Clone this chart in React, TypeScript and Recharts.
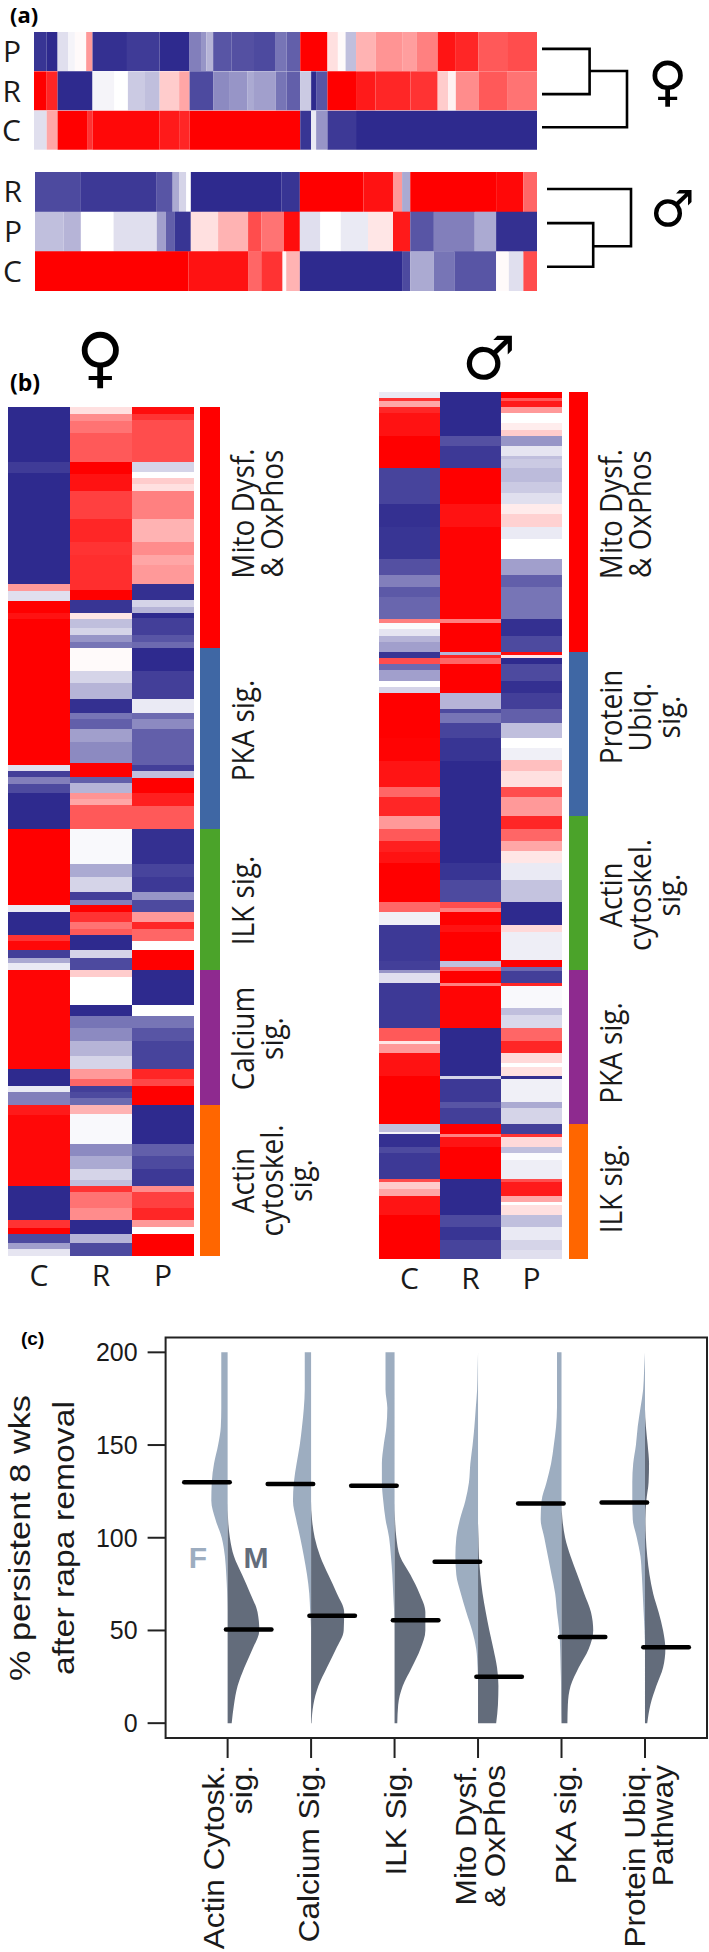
import * as React from 'react';
import {
  BarChart, Bar, XAxis, YAxis, LineChart, Line, ComposedChart, Area,
  ReferenceLine, ReferenceArea,
} from 'recharts';

type Cell = [number, number]; // [z-score, span of rows]

// panel (a), pathway level z-scores
const aFemaleP: Cell[] = [[-.95,28],[-1,24],[-.15,23],[-.05,15],[.02,25],[.4,14],[-.97,76],[-.92,72],[-1,66],[-.6,27],[-.5,10],[-.35,15],[-.8,40],[-.82,50],[-.85,48],[-.65,24],[-.75,30],[1,60],[.12,23],[.02,17],[-.3,23],[.3,43],[.42,60],[.38,30],[.5,47],[.92,40],[.85,50],[.65,63],[.7,66]];
const aFemaleR: Cell[] = [[1,28],[.85,24],[-1,77],[-.05,48],[0,30],[-.25,36],[-.3,34],[.2,43],[.35,23],[-.85,52],[-.55,35],[-.5,40],[-.4,15],[-.45,48],[-.65,24],[-.75,30],[-.25,24],[-1,11],[-.8,25],[1,63],[.9,43],[.85,77],[.8,60],[.2,23],[.05,17],[.45,50],[.65,63],[.55,66]];
const aFemaleC: Cell[] = [[-.15,28],[.35,24],[1,65],[.8,12],[.97,148],[.9,43],[.85,23],[1,244],[-.95,24],[-.1,11],[-.5,25],[-.93,63],[-1,399]];
const aMaleR: Cell[] = [[-.85,101],[-.93,167],[-.8,35],[-.4,15],[-.2,15],[0,10],[-1,200],[-.95,40],[1,140],[.93,65],[.4,20],[-.4,18],[1,189],[.97,60],[.6,30]];
const aMaleP: Cell[] = [[-.3,63],[-.35,38],[0,72],[-.15,95],[-.45,20],[-.75,20],[-.95,35],[.12,60],[.3,66],[.7,29],[.55,50],[.95,35],[-.15,45],[0,45],[-.1,60],[.1,55],[.9,38],[-.8,52],[-.6,90],[-.4,47],[-.97,90]];
const aMaleC: Cell[] = [[1,338],[.93,131],[.6,29],[.8,47],[.02,8],[.3,30],[-1,225],[-.85,18],[-.4,52],[-.65,45],[-.8,92],[.02,28],[-.15,32],[.7,30]];

// panel (b), gene level z-scores
const bFemaleC: Cell[] = [[-1,55],[-.92,11],[-1,111],[.4,7],[-.15,10],[1,12],[.93,6],[1,146],[-.15,6],[-.9,6],[-.6,7],[-.85,9],[-1,36],[1,76],[-.1,7],[-1,23],[.8,6],[.97,9],[-.9,8],[-.4,5],[-.1,7],[.98,99],[-1,17],[-.1,6],[-.6,13],[.9,10],[.97,71],[-1,34],[.8,8],[1,6],[-.85,9],[-.45,6],[-.12,7]];
const bFemaleR: Cell[] = [[.12,7],[.45,7],[.55,12],[.65,29],[1,12],[.93,17],[.75,28],[.85,23],[.8,13],[.82,35],[1,10],[-.95,13],[.1,6],[-.3,9],[-.2,7],[-.5,7],[-.65,6],[.02,23],[-.2,12],[-.35,16],[-.97,14],[-.65,6],[-.75,10],[-.45,13],[-.55,21],[1,14],[-.75,6],[-.35,10],[.42,6],[.35,6],[.65,24],[-.03,35],[-.4,13],[-.2,15],[-.9,8],[-.6,5],[1,7],[.8,10],[.55,7],[.65,6],[-1,15],[-.2,8],[-.85,12],[.2,7],[0,28],[-1,11],[-.65,12],[-.55,13],[-.35,15],[-.2,13],[.4,10],[.6,7],[-.9,6],[-.85,6],[-.7,7],[.3,9],[-.03,30],[-.55,12],[-.4,13],[-.2,11],[-.3,6],[.8,6],[.55,16],[.45,12],[-1,14],[-.35,9],[-.85,13]];
const bFemaleP: Cell[] = [[.95,7],[.8,6],[.7,42],[-.2,10],[0,6],[.2,6],[.12,7],[.5,28],[.3,23],[.45,13],[.35,10],[.4,19],[-.97,16],[-.2,7],[-.35,6],[-1,5],[-.9,17],[-.8,7],[-.7,6],[-1,23],[-.9,28],[-.1,14],[-.7,6],[-.55,10],[-.75,36],[-.9,6],[-.3,7],[1,15],[.88,13],[.65,23],[-.97,35],[-.88,13],[-.93,15],[-.5,8],[-.85,12],[.4,10],[.85,7],[.6,12],[0,9],[1,20],[-1,35],[0,11],[-.65,12],[-.8,13],[-.88,28],[.85,10],[.72,7],[1,19],[-1,39],[-.75,12],[-.85,13],[-.93,17],[.45,6],[.75,16],[.85,12],[.4,7],[0,7],[1,22]];
const bMaleC: Cell[] = [[-.1,6],[.8,3],[.35,6],[.85,6],[.93,23],[1,32],[-.88,36],[-.97,23],[-.95,32],[-.82,16],[-.6,12],[-.78,10],[-.72,22],[.5,4],[-.02,6],[-.12,7],[-.35,6],[-.45,10],[-.95,6],[.7,6],[-.7,6],[-.45,11],[0,6],[-.2,6],[1,45],[.99,23],[.92,26],[.6,10],[.85,19],[.4,13],[.65,12],[.88,11],[.93,11],[1,39],[.6,10],[-.07,13],[-.93,36],[-.9,9],[-.5,3],[-.15,10],[-.93,45],[.65,13],[.1,3],[.4,9],[.93,23],[1,48],[-.3,8],[-.05,2],[-.97,13],[-.85,6],[-.93,26],[.7,3],[.2,7],[.35,7],[.92,19],[1,44]];
const bMaleR: Cell[] = [[-1,44],[-.82,10],[-.93,22],[1,36],[.93,23],[.99,92],[.5,4],[1,29],[-.35,3],[.85,3],[.6,6],[1,29],[-.35,16],[-.85,4],[-.65,10],[-.88,15],[-.95,23],[-1,102],[-.95,17],[-.85,22],[.7,6],[.5,4],[1,13],[.93,7],[1,29],[-.3,6],[.6,4],[1,12],[.5,3],[.98,42],[-1,48],[-.2,3],[-.93,23],[-.8,6],[-.9,16],[1,10],[.5,3],[.92,10],[1,32],[-1,36],[-.85,12],[-.95,13],[-.88,19]];
const bMaleP: Cell[] = [[1,6],[.65,3],[.9,6],[.4,6],[0,10],[.07,7],[.2,6],[-.5,10],[-.12,10],[-.3,3],[-.25,9],[-.32,14],[-.25,11],[-.15,11],[.08,10],[.18,13],[-.1,12],[0,20],[-.45,16],[-.75,12],[-.65,32],[-.97,17],[-.85,16],[.95,3],[.1,3],[-1,6],[-.85,17],[-.97,12],[-.9,16],[-.75,14],[-.3,15],[0,10],[-.07,12],[.25,11],[.12,16],[.7,10],[.4,19],[.85,13],[.6,12],[.35,10],[.1,12],[-.1,17],[-.28,22],[-1,23],[.15,7],[-.08,28],[1,7],[-.7,4],[-.9,12],[.85,3],[-.03,22],[-.3,7],[-.18,13],[.6,13],[.85,12],[.15,10],[0,4],[.12,9],[-.97,3],[-.07,23],[-.4,6],[-.2,16],[-.9,10],[.8,3],[.15,10],[-.3,6],[-.02,7],[-.08,19],[.7,3],[.9,14],[.35,6],[0,3],[.12,10],[-.3,12],[-.1,13],[-.2,10],[-.15,9]];

// pathway side bars
const femalePathways = [['Mito Dysf.', '& OxPhos'], ['PKA sig.'], ['ILK sig.'], ['Calcium', 'sig.'], ['Actin', 'cytoskel.', 'sig.']];
const femaleSpans = [241, 181, 141, 135, 151];
const femaleShift = [-14, -8, 1, 1, 0];
const malePathways = [['Mito Dysf.', '& OxPhos'], ['Protein', 'Ubiq.', 'sig.'], ['Actin', 'cytoskel.', 'sig.'], ['PKA sig.'], ['ILK sig.']];
const maleSpans = [260, 164, 154, 154, 135];
const maleShift = [-8, -17, 2, 6, -3];
const barColors = ['#ff0000', '#3f67a4', '#4ba32a', '#8e2a8f', '#ff6600'];

// dendrograms
const femaleTreeLow = [{ x: 0, y: .43 }, { x: 56, y: .43 }, { x: 56, y: 1.58 }, { x: 0, y: 1.58 }];
const femaleTreeHigh = [{ x: 56, y: .99 }, { x: 100, y: .99 }, { x: 100, y: 2.42 }, { x: 0, y: 2.42 }];
const maleTreeLow = [{ x: 0, y: 1.29 }, { x: 55, y: 1.29 }, { x: 55, y: 2.39 }, { x: 0, y: 2.39 }];
const maleTreeHigh = [{ x: 55, y: 1.87 }, { x: 100, y: 1.87 }, { x: 100, y: .43 }, { x: 0, y: .43 }];

// panel (c), density on the pct grid
const pctGrid = [0, 10, 20, 30, 40, 50, 60, 70, 80, 90, 100, 110, 120, 130, 140, 150, 160, 170, 180, 190, 200];
const violinNames = [['Actin Cytosk.', 'sig.'], ['Calcium Sig.'], ['ILK Sig.'], ['Mito Dysf.', '& OxPhos'], ['PKA sig.'], ['Protein Ubiq.', 'Pathway']];
const violinShift = [-4, 8, 11, -2, 14, 0];
const femaleDensity = [
  [0, 0, 0, 0, 0, 0, 0, 1, 3, 6, 13, 27, 36, 35, 30, 21, 15, 14, 14, 14, 14],
  [0, 0, 0, 0, 0, 0, 2, 4, 9, 16, 24, 33, 40, 38, 32, 25, 20, 16, 14, 14, 14],
  [0, 0, 0, 0, 0, 0, 1, 3, 5, 8, 12, 20, 25, 28, 28, 24, 18, 16, 20, 20, 20],
  [0, 0, 0, 1, 4, 13, 26, 38, 48, 50, 48, 40, 28, 20, 17, 12, 8, 5, 2, 1, 0],
  [0, 1, 1, 2, 3, 5, 10, 14, 22, 30, 38, 46, 44, 33, 23, 17, 12, 10, 10, 10, 10],
  [0, 0, 0, 0, 0, 1, 3, 5, 7, 10, 18, 27, 28, 28, 26, 20, 16, 10, 4, 2, 0],
];
const maleDensity = [
  [9, 14, 22, 37, 55, 70, 66, 50, 32, 14, 5, 1, 0, 0, 0, 0, 0, 0, 0, 0, 0],
  [1, 5, 16, 35, 55, 72, 73, 57, 38, 20, 8, 2, 0, 0, 0, 0, 0, 0, 0, 0, 0],
  [6, 8, 18, 38, 57, 68, 68, 55, 35, 12, 4, 1, 0, 0, 0, 0, 0, 0, 0, 0, 0],
  [40, 44, 45, 42, 34, 25, 17, 10, 5, 2, 1, 0, 0, 0, 0, 0, 0, 0, 0, 0, 0],
  [13, 14, 20, 38, 60, 70, 65, 50, 35, 20, 8, 2, 0, 0, 0, 0, 0, 0, 0, 0, 0],
  [5, 12, 25, 40, 45, 40, 30, 18, 10, 5, 2, 1, 3, 8, 9, 6, 2, 0, 0, 0, 0],
];
const femaleMedian = [130, 129, 128, 87, 118.5, 119];
const maleMedian = [50.5, 58, 55.5, 25, 46.5, 41];
const yTicks = [0, 50, 100, 150, 200];

const SANS = '"Open Sans", sans-serif';
const HELV = '"Liberation Sans", Arial, sans-serif';
const DENSITY_SCALE = 184.3;

function heatColor(z: number) {
  const t = Math.abs(z);
  const to = z < 0 ? [46, 42, 142] : [255, 0, 0];
  const c = to.map((v) => Math.round(255 + (v - 255) * t));
  return `rgb(${c[0]},${c[1]},${c[2]})`;
}

function buildTable(names: string[], rows: Cell[][]) {
  return names.map((name, i) => {
    const row: any = { name };
    rows[i].forEach((cell, j) => { row[`c${i}_${j}`] = cell[1]; });
    return row;
  });
}

function heatBars(rows: Cell[][]) {
  return rows.flatMap((cells, i) =>
    cells.map((cell, j) => (
      <Bar key={`c${i}_${j}`} dataKey={`c${i}_${j}`} stackId="h" fill={heatColor(cell[0])} isAnimationActive={false} />
    ))
  );
}

// three rows side by side, panel (a)
const RowHeat: React.FC<{ names: string[]; rows: Cell[][]; total: number; left: number; top: number; width: number; height: number }> = ({ names, rows, total, left, top, width, height }) => (
  <div style={{ position: 'absolute', left: 0, top }}>
    <BarChart layout="vertical" width={left + width} height={height} data={buildTable(names, rows)} barCategoryGap={0} margin={{ top: 0, right: 0, bottom: 0, left: 0 }}>
      <XAxis type="number" domain={[0, total]} hide />
      <YAxis type="category" dataKey="name" width={left} axisLine={false} tickLine={false} tickSize={0} tickMargin={13} interval={0}
        tick={{ fontSize: 30, fontFamily: SANS, fill: '#1a1a1a' }} />
      {heatBars(rows)}
    </BarChart>
  </div>
);

// three columns stacked down the page, panel (b)
const ColumnHeat: React.FC<{ rows: Cell[][]; total: number; left: number; top: number; width: number }> = ({ rows, total, left, top, width }) => (
  <div style={{ position: 'absolute', left, top }}>
    <BarChart width={width} height={total + 44} data={buildTable(['C', 'R', 'P'], rows)} barCategoryGap={0} margin={{ top: 0, right: 0, bottom: 0, left: 0 }}>
      <XAxis dataKey="name" height={44} axisLine={false} tickLine={false} tickSize={0} tickMargin={9} interval={0}
        tick={{ fontSize: 30, fontFamily: SANS, fill: '#1a1a1a' }} />
      <YAxis type="number" domain={[0, total]} reversed hide />
      {heatBars(rows)}
    </BarChart>
  </div>
);

const PathwayBar: React.FC<{ names: string[][]; spans: number[]; shift: number[]; left: number; top: number; width: number }> = ({ names, spans, shift, left, top, width }) => {
  const row: any = { name: 'pathway' };
  spans.forEach((s, i) => { row[`p${i}`] = s; });
  const total = spans.reduce((a, b) => a + b, 0);
  return (
    <div style={{ position: 'absolute', left, top }}>
      <BarChart width={width + 120} height={total} data={[row]} barCategoryGap={0} margin={{ top: 0, right: 120, bottom: 0, left: 0 }}>
        <XAxis dataKey="name" hide />
        <YAxis type="number" domain={[0, total]} reversed hide />
        {spans.map((_, i) => (
          <Bar key={i} dataKey={`p${i}`} stackId="p" fill={barColors[i]} isAnimationActive={false}
            label={(p: any) => (
              <g>
                {names[i].map((line, k) => (
                  <text key={k} transform={`translate(${p.x + p.width + 34 + k * 29},${p.y + p.height / 2 + shift[i]}) rotate(-90) scale(.9,1)`}
                    textAnchor="middle" fontSize={31} fontFamily={SANS} fill="#1a1a1a">{line}</text>
                ))}
              </g>
            )} />
        ))}
      </BarChart>
    </div>
  );
};

const Tree: React.FC<{ low: any[]; high: any[]; left: number; top: number; width: number; height: number }> = ({ low, high, left, top, width, height }) => (
  <div style={{ position: 'absolute', left: left - 3, top: top - 3 }}>
    <LineChart width={width + 6} height={height + 6} margin={{ top: 3, right: 3, bottom: 3, left: 3 }}>
      <XAxis type="number" dataKey="x" domain={[0, 100]} hide />
      <YAxis type="number" dataKey="y" domain={[0, 3]} reversed hide />
      <Line data={low} dataKey="y" stroke="#000" strokeWidth={2.6} dot={false} isAnimationActive={false} strokeLinejoin="miter" />
      <Line data={high} dataKey="y" stroke="#000" strokeWidth={2.6} dot={false} isAnimationActive={false} strokeLinejoin="miter" />
    </LineChart>
  </div>
);

const Tag: React.FC<{ x: number; y: number; size: number; bold?: boolean; font?: string; children: React.ReactNode }> = ({ x, y, size, bold, font, children }) => (
  <div style={{ position: 'absolute', left: x, top: y, fontSize: size, lineHeight: 1, fontWeight: bold ? 700 : 400, fontFamily: font || SANS, color: '#000', whiteSpace: 'nowrap' }}>{children}</div>
);

const violinTable = pctGrid.map((pct, k) => {
  const row: any = { pct };
  violinNames.forEach((_, i) => {
    const c = i + 1;
    row[`f${i}`] = [c - femaleDensity[i][k] / DENSITY_SCALE, c];
    row[`m${i}`] = [c, c + maleDensity[i][k] / DENSITY_SCALE];
  });
  return row;
});

const ViolinTick = (props: any) => {
  const i = props.payload.value - 1;
  return (
    <g>
      {violinNames[i].map((line, k) => (
        <text key={k} transform={`translate(${props.x + violinShift[i] + k * 28.5},455) rotate(-90) scale(1.053,1)`}
          textAnchor="end" fontSize={30} fontFamily={HELV} fill="#1a1a1a">{line}</text>
      ))}
    </g>
  );
};

const ViolinChart = () => (
  <div style={{ position: 'absolute', left: 0, top: 1310 }}>
    <ComposedChart layout="vertical" width={709} height={642} data={violinTable} margin={{ top: 27.5, right: 2, bottom: 0, left: 0 }}>
      <XAxis type="number" domain={[0.257, 6.743]} ticks={[1, 2, 3, 4, 5, 6]} allowDataOverflow height={214}
        axisLine={false} tickSize={20} tickLine={{ stroke: '#222', strokeWidth: 2 }} tick={<ViolinTick />} interval={0} />
      <YAxis type="number" dataKey="pct" domain={[-8, 208]} ticks={yTicks} reversed allowDataOverflow width={165.6}
        axisLine={false} tickSize={18} tickMargin={10} tickLine={{ stroke: '#222', strokeWidth: 2 }}
        tick={{ fontSize: 25, fontFamily: HELV, fill: '#1a1a1a' }} interval={0} />
      {violinNames.map((_, i) => (
        <Area key={`f${i}`} dataKey={`f${i}`} type="monotone" stroke="none" fill="#9dadc0" fillOpacity={1} dot={false} activeDot={false} isAnimationActive={false} />
      ))}
      {violinNames.map((_, i) => (
        <Area key={`m${i}`} dataKey={`m${i}`} type="monotone" stroke="none" fill="#636c7b" fillOpacity={1} dot={false} activeDot={false} isAnimationActive={false} />
      ))}
      {femaleMedian.map((v, i) => (
        <ReferenceLine key={`fm${i}`} segment={[{ x: i + 1 - .52, y: v }, { x: i + 1 + .025, y: v }]} stroke="#000" strokeWidth={4.5} strokeLinecap="round" />
      ))}
      {maleMedian.map((v, i) => (
        <ReferenceLine key={`mm${i}`} segment={[{ x: i + 1 - .02, y: v }, { x: i + 1 + .525, y: v }]} stroke="#000" strokeWidth={4.5} strokeLinecap="round" />
      ))}
      <ReferenceArea x1={0.257} x2={6.743} y1={-8} y2={208} fill="none" stroke="#222" strokeWidth={2} />
    </ComposedChart>
    <svg width={300} height={500} style={{ position: 'absolute', left: 0, top: 0 }}>
      <text transform="translate(30,228) rotate(-90) scale(1.144,1)" textAnchor="middle" fontSize={30} fontFamily={HELV} fill="#1a1a1a">% persistent 8 wks</text>
      <text transform="translate(74,228) rotate(-90) scale(1.125,1)" textAnchor="middle" fontSize={30} fontFamily={HELV} fill="#1a1a1a">after rapa removal</text>
      <text x={198} y={258} textAnchor="middle" fontSize={30} fontWeight={700} fontFamily={HELV} fill="#9dadc0">F</text>
      <text x={256} y={258} textAnchor="middle" fontSize={30} fontWeight={700} fontFamily={HELV} fill="#636c7b">M</text>
    </svg>
  </div>
);

export default function App() {
  return (
    <div style={{ position: 'absolute', left: 0, top: 0, width: 709, height: 1952, background: '#fff', overflow: 'hidden' }}>
      <Tag x={10} y={3} size={22} bold>(a)</Tag>
      <RowHeat names={['P', 'R', 'C']} rows={[aFemaleP, aFemaleR, aFemaleC]} total={1109} left={34} top={32} width={503} height={118} />
      <RowHeat names={['R', 'P', 'C']} rows={[aMaleR, aMaleP, aMaleC]} total={1105} left={35} top={172} width={502} height={119} />
      <Tree low={femaleTreeLow} high={femaleTreeHigh} left={542} top={32} width={85} height={118} />
      <Tree low={maleTreeLow} high={maleTreeHigh} left={547} top={172} width={84} height={119} />
      <Tag x={648} y={55} size={54} font="DejaVu Sans" bold>♀</Tag>
      <Tag x={650} y={184} size={50} font="DejaVu Sans" bold>♂</Tag>

      <Tag x={10} y={371} size={23} bold>(b)</Tag>
      <Tag x={76} y={325} size={66} font="DejaVu Sans" bold>♀</Tag>
      <Tag x={462} y={328} size={60} font="DejaVu Sans" bold>♂</Tag>
      <ColumnHeat rows={[bFemaleC, bFemaleR, bFemaleP]} total={849} left={8} top={407} width={186} />
      <PathwayBar names={femalePathways} spans={femaleSpans} shift={femaleShift} left={200} top={407} width={20} />
      <ColumnHeat rows={[bMaleC, bMaleR, bMaleP]} total={867} left={379} top={392} width={183} />
      <PathwayBar names={malePathways} spans={maleSpans} shift={maleShift} left={569} top={392} width={19} />

      <Tag x={21} y={1329} size={19} bold font={HELV}>(c)</Tag>
      <ViolinChart />
    </div>
  );
}
